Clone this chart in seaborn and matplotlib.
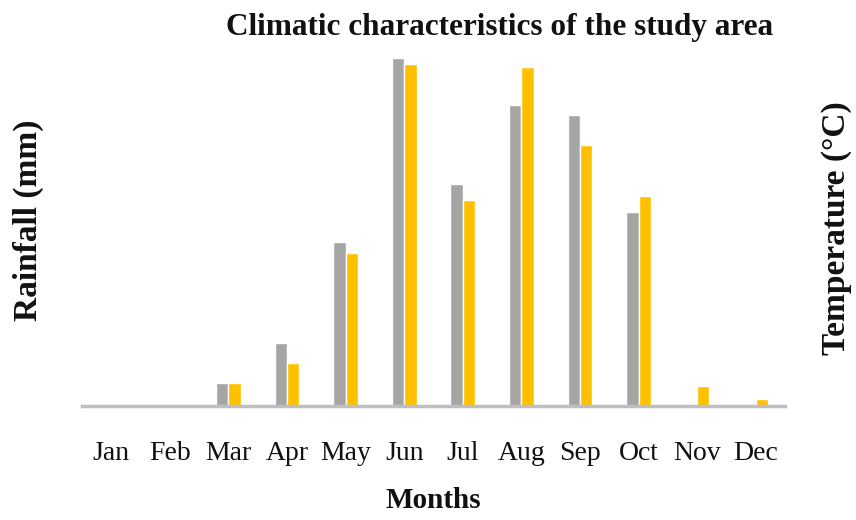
"""Climatic characteristics of the study area: monthly rainfall and temperature bars."""

import matplotlib

matplotlib.use("Agg")
import matplotlib.pyplot as plt
import pandas as pd
import seaborn as sns

MONTHS = ["Jan", "Feb", "Mar", "Apr", "May", "Jun", "Jul", "Aug", "Sep", "Oct", "Nov", "Dec"]
# values (no tick labels in the source, relative units)
RAINFALL = [0, 0, 23, 63, 164, 348, 222, 301, 291, 194, 2, 0]
TEMPERATURE = [0, 0, 23, 43, 153, 342, 206, 339, 261, 210, 20, 7]
SERIES = ["Rainfall", "Temperature"]
COLORS = {"Rainfall": "#A5A5A5", "Temperature": "#FFC000"}

df = pd.DataFrame(
    {
        "month": MONTHS * 2,
        "value": RAINFALL + TEMPERATURE,
        "series": [SERIES[0]] * len(MONTHS) + [SERIES[1]] * len(MONTHS),
    }
)

sns.set_style("white")
plt.rcParams["font.family"] = ["Liberation Serif", "DejaVu Serif"]
plt.rcParams["text.color"] = "#111111"
plt.rcParams["xtick.color"] = "#111111"
plt.rcParams["axes.labelcolor"] = "#111111"

fig = plt.figure(figsize=(8.56, 5.2), dpi=100)
ax = fig.add_axes([82 / 856, 1 - 406 / 520, (785 - 82) / 856, 356 / 520])

sns.barplot(
    data=df,
    x="month",
    y="value",
    hue="series",
    order=MONTHS,
    hue_order=SERIES,
    palette=COLORS,
    width=0.42,
    gap=0,
    saturation=1,
    legend=False,
    ax=ax,
)

ax.set_ylim(0, 356)
ax.set_yticks([])
ax.tick_params(axis="x", length=0, pad=25, labelsize=20)
for side in ["top", "right", "left"]:
    ax.spines[side].set_visible(False)
ax.spines["bottom"].set_color("#BFBFBF")
ax.spines["bottom"].set_linewidth(2.5)

ax.set_xlabel("Months", fontsize=21, fontweight="bold", labelpad=15)
ax.set_ylabel("")

fig.text(28 / 856, 1 - 220 / 520, "Rainfall (mm)", rotation=90, ha="center", va="center",
         fontsize=24, fontweight="bold")
fig.text(836 / 856, 1 - 228 / 520, "Temperature (°C)", rotation=90, ha="center", va="center",
         fontsize=24, fontweight="bold")
fig.text(500 / 856, 1 - 27 / 520, "Climatic characteristics of the study area", ha="center",
         va="center", fontsize=22.5, fontweight="bold")

fig.savefig("out.png", dpi=100)
plt.close(fig)
